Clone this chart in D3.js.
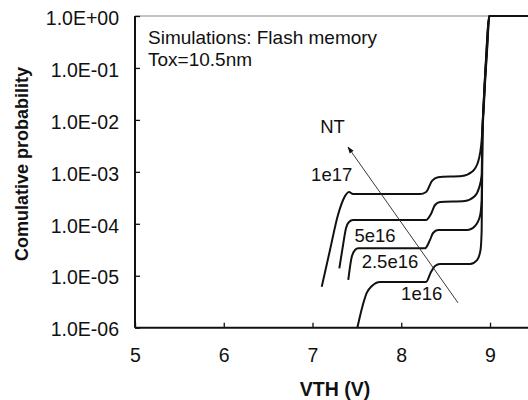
<!DOCTYPE html>
<html>
<head>
<meta charset="utf-8">
<script src="https://cdn.jsdelivr.net/npm/d3@7"></script>
<style>
  html, body { margin: 0; padding: 0; background: #fff; }
  svg { display: block; font-family: "Liberation Sans", Arial, sans-serif; }
</style>
</head>
<body>
<svg id="chart" width="528" height="400"></svg>
<script>
// ---- data ----
const xTicks = [5, 6, 7, 8, 9];
const xTickLabels = ["5", "6", "7", "8", "9"];
const yTicks = [1, 1e-1, 1e-2, 1e-3, 1e-4, 1e-5, 1e-6];
const yTickLabels = ["1.0E+00", "1.0E-01", "1.0E-02", "1.0E-03", "1.0E-04", "1.0E-05", "1.0E-06"];

const seriesNames = ["1e17", "5e16", "2.5e16", "1e16"];

const vth_1e17 = [7.104, 7.197, 7.287, 7.355, 7.411, 7.456, 8.211, 8.28, 8.346, 8.414, 8.685, 8.797, 8.865, 8.906, 8.93, 8.96, 8.989, 9.5];
const p_1e17   = [6.15e-6, 3.13e-5, 1.48e-4, 3.14e-4, 4.09e-4, 3.75e-4, 3.75e-4, 4.1e-4, 6.7e-4, 7.9e-4, 8.3e-4, 1.0e-3, 1.55e-3, 4.1e-3, 2.4e-2, 0.22, 1, 1];

const vth_5e16 = [7.302, 7.344, 7.378, 7.411, 7.456, 8.279, 8.335, 8.38, 8.437, 8.718, 8.82, 8.876, 8.906, 8.912, 8.93, 8.962, 8.99, 9.5];
const p_5e16   = [1.39e-5, 3.9e-5, 8.3e-5, 1.08e-4, 1.18e-4, 1.18e-4, 1.55e-4, 2.3e-4, 2.63e-4, 2.75e-4, 3.3e-4, 4.9e-4, 8.7e-4, 4.0e-3, 2.4e-2, 0.22, 1, 1];

const vth_2_5e16 = [7.403, 7.439, 7.479, 7.516, 8.268, 8.324, 8.358, 8.414, 8.741, 8.831, 8.887, 8.906, 8.913, 8.932, 8.965, 8.992, 9.5];
const p_2_5e16   = [8.3e-6, 2.2e-5, 3.13e-5, 3.38e-5, 3.38e-5, 4.9e-5, 6.65e-5, 7.6e-5, 7.6e-5, 9.1e-5, 1.41e-4, 2.9e-4, 4.0e-3, 2.4e-2, 0.22, 1, 1];

const vth_1e16 = [7.505, 7.558, 7.611, 7.67, 7.76, 8.279, 8.335, 8.38, 8.437, 8.775, 8.854, 8.893, 8.906, 8.915, 8.934, 8.967, 8.994, 9.5];
const p_1e16   = [1e-6, 2.4e-6, 4.66e-6, 6.35e-6, 7.6e-6, 7.6e-6, 1.18e-5, 1.54e-5, 1.68e-5, 1.68e-5, 2.0e-5, 3.13e-5, 7.6e-5, 4.0e-3, 2.4e-2, 0.22, 1, 1];

const seriesVth = [vth_1e17, vth_5e16, vth_2_5e16, vth_1e16];
const seriesP   = [p_1e17, p_5e16, p_2_5e16, p_1e16];

// annotation labels, anchored in data coordinates [VTH, probability] (text baseline)
const labelTexts = ["NT", "1e17", "5e16", "2.5e16", "1e16"];
const labelVth   = [7.225, 7.216, 7.704, 7.873, 8.23];
const labelP     = [5.6e-3, 6.67e-4, 4.47e-5, 1.41e-5, 3.41e-6];
const arrowFrom  = [8.64, 3.0e-6];
const arrowTo    = [7.40, 3.0e-3];

const noteLines = ["Simulations: Flash memory", "Tox=10.5nm"];

// ---- layout ----
const svg = d3.select("#chart");
const W = 528, H = 400;
const mLeft = 135, mTop = 16, mBottom = 327.7, mRightEdge = 534.4;

const x = d3.scaleLinear().domain([5, 9.5]).range([mLeft, mRightEdge]);
const y = d3.scaleLog().domain([1e-6, 1]).range([mBottom, mTop]);

// top border (light gray)
svg.append("line")
  .attr("x1", mLeft).attr("x2", W)
  .attr("y1", y(1)).attr("y2", y(1))
  .attr("stroke", "#8a8a8a").attr("stroke-width", 1.2);

// curves
const line = d3.line()
  .x(d => x(d[0])).y(d => y(d[1]))
  .curve(d3.curveMonotoneX);

seriesNames.forEach((name, i) => {
  const pts = seriesVth[i].map((v, j) => [v, seriesP[i][j]]);
  svg.append("path")
    .datum(pts)
    .attr("d", line)
    .attr("fill", "none")
    .attr("stroke", "#111")
    .attr("stroke-width", 2)
    .attr("stroke-linejoin", "round");
});

// axes
const fmtY = d => yTickLabels[yTicks.indexOf(d)];
const yAxis = d3.axisLeft(y).tickValues(yTicks).tickFormat(fmtY)
  .tickSizeInner(-5).tickSizeOuter(0).tickPadding(16);
const xAxis = d3.axisBottom(x).tickValues(xTicks)
  .tickFormat(d => xTickLabels[xTicks.indexOf(d)])
  .tickSizeInner(-5).tickSizeOuter(0).tickPadding(20);

const gy = svg.append("g").attr("transform", `translate(${mLeft},0)`).call(yAxis);
const gx = svg.append("g").attr("transform", `translate(0,${mBottom})`).call(xAxis);

[gx, gy].forEach(g => {
  g.select(".domain").attr("stroke", "#111").attr("stroke-width", 2);
  g.selectAll(".tick line").attr("stroke", "#111").attr("stroke-width", 1.3);
  g.selectAll(".tick text").attr("fill", "#111")
    .style("font-family", "Liberation Sans, Arial, sans-serif")
    .style("font-size", "19.5px");
});
gy.select(".domain").attr("d", `M0,${mTop}V${mBottom}`);
gx.select(".domain").attr("d", `M${mLeft},0H${W}`);
gy.selectAll(".tick text").attr("dy", "0.42em");

// axis titles
svg.append("text")
  .attr("x", 335).attr("y", 396)
  .attr("text-anchor", "middle")
  .attr("font-weight", "bold").attr("font-size", 19.5)
  .attr("fill", "#111")
  .text("VTH (V)");

svg.append("text")
  .attr("transform", "translate(28,164) rotate(-90)")
  .attr("text-anchor", "middle")
  .attr("font-weight", "bold").attr("font-size", 18)
  .attr("fill", "#111")
  .text("Comulative probability");

// note text
svg.selectAll("text.note").data(noteLines).enter().append("text")
  .attr("class", "note")
  .attr("x", 148).attr("y", (d, i) => 44 + i * 22)
  .attr("font-size", 19).attr("fill", "#111")
  .text(d => d);

// arrow
svg.append("defs").append("marker")
  .attr("id", "ah").attr("viewBox", "0 0 10 10")
  .attr("refX", 9).attr("refY", 5)
  .attr("markerWidth", 7).attr("markerHeight", 7)
  .attr("markerUnits", "userSpaceOnUse")
  .attr("orient", "auto")
  .append("path").attr("d", "M0,1.5L10,5L0,8.5Z").attr("fill", "#111");

svg.append("line")
  .attr("x1", x(arrowFrom[0])).attr("y1", y(arrowFrom[1]))
  .attr("x2", x(arrowTo[0])).attr("y2", y(arrowTo[1]))
  .attr("stroke", "#222").attr("stroke-width", 0.9)
  .attr("marker-end", "url(#ah)");

// series labels
svg.selectAll("text.lab").data(labelTexts).enter().append("text")
  .attr("class", "lab")
  .attr("x", (d, i) => x(labelVth[i]))
  .attr("y", (d, i) => y(labelP[i]))
  .attr("text-anchor", "middle")
  .attr("font-size", 18.5).attr("fill", "#111")
  .text(d => d);
</script>
</body>
</html>
